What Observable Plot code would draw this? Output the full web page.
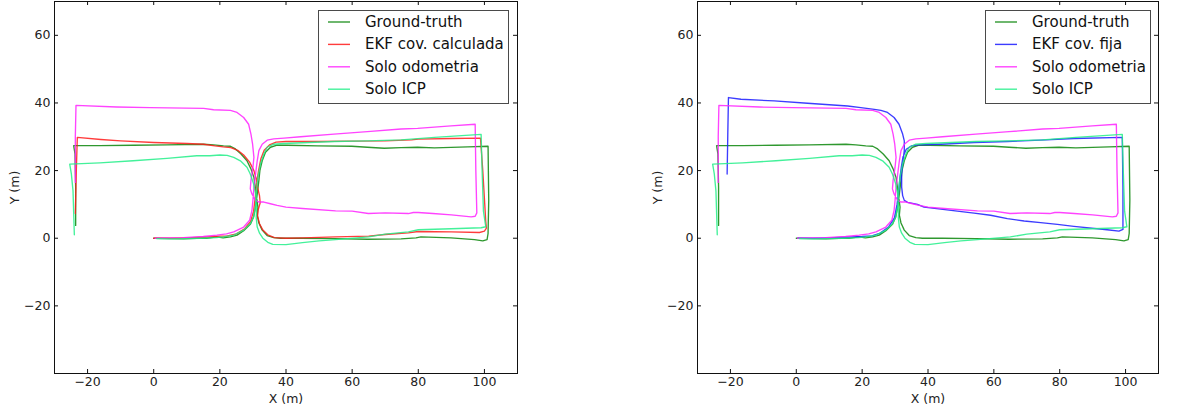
<!DOCTYPE html>
<html>
<head>
<meta charset="utf-8">
<script src="https://cdn.jsdelivr.net/npm/d3@7"></script>
<script src="https://cdn.jsdelivr.net/npm/@observablehq/plot@0.6"></script>
<style>
  body { margin: 0; background: #fff; font-family: "DejaVu Sans", sans-serif; }
  #chart { position: relative; width: 1179px; height: 407px; overflow: hidden; background: #fff; }
  .panel { position: absolute; top: 0; }
  .legend { position: absolute; border: 1.8px solid #4a4a4a; background: #fff; box-sizing: border-box;
            font-family: "DejaVu Sans", sans-serif; font-size: 15px; color: #111; }
  .legend .label { position: absolute; height: 20px; line-height: 20px; white-space: nowrap; }
  .legend svg { position: absolute; left: 0; top: 0; }
</style>
</head>
<body>
<div id="chart"></div>
<script>
// Axis settings
const xDomain = [-30, 110];
const yDomain = [-40, 70];
const xTicks = [-20, 0, 20, 40, 60, 80, 100];
const yTicks = [-20, 0, 20, 40, 60];

// Trajectories, [x (m), y (m)] in travel order
const groundTruth = [
  [0,0],[5,-0.1],[9,-0.2],[13,0],[16,0],[19,0.4],[21,0.1],[23.2,0.4],[25.2,0.9],[27.2,2.2],[29.2,4.1],
  [30.2,6.3],[30.8,9.2],[31.3,13.1],[31.8,17.1],[32.1,20],[32.8,22.9],[33.8,25.4],[35.3,26.9],[37.3,27.5],
  [40.4,27.5],[49.5,27.3],[59.9,27.2],[64.6,26.9],[69.7,26.6],[74.8,26.8],[79.8,26.9],[84.9,26.7],[95,27],
  [101.1,27.2],[101.3,11.2],[101.1,1.4],[100.8,-0.4],[99.5,-0.8],[97,-0.4],[89.9,0.1],[80.8,0.4],[79.3,0.1],
  [74.8,-0.2],[64.6,-0.3],[54.5,-0.1],[44.4,0],[38.3,0],[36.3,0.2],[34.3,0.8],[32.8,2.4],[31.8,4.5],
  [31.3,6.8],[31.5,9.2],[31.1,12.2],[30.7,15.1],[30.3,18],[29.4,20.5],[28.2,22.9],[26.4,24.9],[24.7,26.4],
  [23.2,27.2],[21.1,27.3],[18.1,27.6],[15.1,27.8],[3.9,27.6],[-6.2,27.5],[-16.3,27.4],[-24.2,27.4],
  [-23.8,24.9],[-23.6,15.1],[-23.6,3.8]
];
const ekfCalculated = [
  [0,0],[5,0],[10,0.1],[15,0.3],[20,0.6],[22,0.6],[25,1.3],[27.5,2.8],[29.3,5],[30.2,8],[30.7,12],
  [31.1,16],[31.7,20],[32.4,23.5],[33.4,26],[35,27.6],[37,28.4],[40,28.6],[50,28.6],[60,28.7],[70,28.8],
  [78,29.1],[80,29.3],[90,29.5],[98.8,29.6],[99.5,20],[100.4,5],[100.6,3],[100,2.1],[98.5,1.7],[90,1.9],
  [80,2],[77,1.6],[70,1.1],[65,0.6],[55,0.4],[45,0.1],[40,0],[36.5,0.2],[34.5,1],[33,2.4],[32,4.3],
  [31.4,6.5],[31.6,8.5],[32.2,10.5],[32,12.5],[31.4,15],[31,17.5],[30.3,20],[29,22.5],[27.2,24.6],
  [25.4,26],[23.3,26.8],[21,27],[18.5,27.3],[15,27.8],[10,28],[0,28.3],[-10,28.8],[-16,29.2],
  [-23.1,29.8],[-23.4,20],[-23.7,7.3]
];
const ekfFixed = [
  [0.5,0],[5,0],[10,0.1],[15,0.3],[20,0.5],[23,0.7],[25.5,1.5],[28,3.3],[29.8,6],[30.6,10],[31.1,14],
  [31.5,18],[31.9,21],[32.4,24],[33.4,26.3],[35,27.3],[36.8,27.6],[43.9,27.8],[54,28.3],[64.1,28.6],
  [74.2,29],[84.3,29.5],[99,29.8],[99.2,15],[99.2,2.6],[98,2.1],[94.4,2.5],[84.3,3.5],[79.3,4.1],
  [74.2,4.6],[69.2,5.1],[64.1,5.8],[59,6.8],[54,7.4],[48.9,8],[43.9,8.6],[38.8,9.2],[36.8,10],
  [33.8,10.6],[32.8,11.2],[32.3,12.6],[32,15.1],[32,19],[32.3,22],[32.8,25.9],[32.8,28.8],[32.3,30.8],
  [31.2,33.7],[29.7,35.7],[27.7,37.2],[25.7,37.8],[23.7,38.1],[19.6,38.6],[15.6,39.1],[3.4,39.9],
  [-6.7,40.6],[-16.8,41.1],[-20.6,41.6],[-20.8,30.8],[-21,19]
];
const odometry = [
  [0.4,0],[5,0.1],[9,0.2],[15,0.5],[19.1,0.9],[22,1.3],[24.2,1.9],[27.2,3.3],[29,5.3],[29.7,8.2],
  [30,11.2],[30.3,15.1],[30.8,19],[31.3,22.9],[31.8,25.9],[32.8,27.8],[34.3,29],[36.3,29.4],[39.4,29.6],
  [44.4,30],[54.5,30.8],[64.6,31.5],[74.8,32.3],[79.8,32.5],[89.9,33.2],[97.2,33.7],[97.4,20],[97.7,7.5],
  [97.2,6.5],[96,6.3],[90,6.9],[84.4,7.3],[80,7.6],[78.5,7.6],[77,7.3],[70,7.5],[64.9,7.3],[60,8],
  [55,8.1],[45,8.8],[40,9.2],[37.3,9.7],[35.3,10.2],[33.3,10.7],[31.8,10.7],[30.8,11.2],[29.7,13.1],
  [29.2,14.6],[29.4,17.1],[30,21],[30.3,23.9],[29.9,27.8],[29.4,30.8],[28.7,33.7],[27.2,35.7],
  [25.2,37.2],[23.2,37.8],[18.1,38],[15.1,38.4],[-1.1,38.6],[-11.2,38.8],[-23.5,39.3],[-23.7,30],
  [-23.7,16.5]
];
const icpOnly = [
  [0.9,-0.1],[5,-0.2],[10,-0.1],[14,0],[19,0.2],[21,0.4],[24.2,0.9],[27.2,2.4],[29.2,4.3],[30.2,6.3],
  [30.8,9.5],[31.1,14.1],[31.5,18],[32.3,22],[33.3,24.9],[34.3,26.9],[36.3,27.8],[39.4,28],[54.5,28.6],
  [64.6,28.8],[74.8,29.1],[84.9,29.8],[99,30.7],[99.3,20],[99.7,8],[100.4,3.4],[99,3.1],[90,2.8],
  [80,2.5],[77,1.9],[70,1.2],[65,0.4],[55,-0.4],[50,-0.8],[45,-1.3],[40,-1.9],[36,-1.8],[34.5,-1.2],
  [33,0],[32,1.5],[31.3,3.3],[31,6],[31.1,9],[30.8,13.1],[30.2,16.1],[29.2,19],[28.2,21],[26.2,22.9],
  [24.2,23.9],[22.2,24.5],[20,24.6],[17,24.4],[13,24.4],[4,23.6],[-6.2,22.9],[-16.3,22.3],[-25.4,21.9],
  [-24.9,19],[-24.4,14],[-24,1]
];

// Series labels and colours
const seriesNames = ["Ground-truth", "EKF cov. calculada", "EKF cov. fija", "Solo odometria", "Solo ICP"];
const seriesColors = ["#0a860a", "#ff1a1a", "#1a1aff", "#ff22ff", "#22ee88"];

const series = {
  gt:    {name: seriesNames[0], color: seriesColors[0], data: groundTruth},
  calc:  {name: seriesNames[1], color: seriesColors[1], data: ekfCalculated},
  fixed: {name: seriesNames[2], color: seriesColors[2], data: ekfFixed},
  odom:  {name: seriesNames[3], color: seriesColors[3], data: odometry},
  icp:   {name: seriesNames[4], color: seriesColors[4], data: icpOnly}
};

const H = 407, MT = 1, MB = 34;
const SVGNS = "http://www.w3.org/2000/svg";

function panel({left, width, marginLeft, marginRight, list, legend}) {
  const frameW = width - marginLeft - marginRight;
  const frameH = H - MT - MB;
  const marks = list.map(s => Plot.line(s.data, {
    x: d => d[0], y: d => d[1], stroke: s.color, strokeWidth: 1.35, strokeOpacity: 0.85
  }));
  marks.push(
    Plot.frame({stroke: "#111", strokeWidth: 1}),
    // inward ticks on all four sides
    Plot.tickX(xTicks, {x: d => d, insetTop: frameH - 4, stroke: "#111"}),
    Plot.tickX(xTicks, {x: d => d, insetBottom: frameH - 4, stroke: "#111"}),
    Plot.tickY(yTicks, {y: d => d, insetRight: frameW - 4, stroke: "#111"}),
    Plot.tickY(yTicks, {y: d => d, insetLeft: frameW - 4, stroke: "#111"}),
    Plot.axisX(xTicks, {tickSize: 0, tickPadding: 4, label: null, fontSize: 12.5, fill: "#222"}),
    Plot.axisY(yTicks, {tickSize: 0, tickPadding: 4, label: null, fontSize: 12.5, fill: "#222"}),
    Plot.text(["X (m)"], {frameAnchor: "bottom", lineAnchor: "middle", dy: 25, fontSize: 12.5, fill: "#222"}),
    Plot.text(["Y (m)"], {frameAnchor: "left", lineAnchor: "middle", textAnchor: "middle", rotate: -90,
                          dx: -40, fontSize: 12.5, fill: "#222"})
  );
  const svg = Plot.plot({
    width, height: H, marginTop: MT, marginBottom: MB, marginLeft, marginRight,
    x: {domain: xDomain}, y: {domain: yDomain},
    style: {fontFamily: "DejaVu Sans, sans-serif", background: "transparent", overflow: "visible"},
    marks
  });
  const wrap = document.createElement("div");
  wrap.className = "panel";
  wrap.style.left = left + "px";
  wrap.style.width = width + "px";
  wrap.appendChild(svg);

  // legend box: line swatches plus names
  const lg = document.createElement("div");
  lg.className = "legend";
  Object.assign(lg.style, {left: legend.x + "px", top: legend.y + "px",
                           width: legend.w + "px", height: legend.h + "px"});
  const sw = document.createElementNS(SVGNS, "svg");
  sw.setAttribute("width", 40);
  sw.setAttribute("height", legend.h);
  list.forEach((s, i) => {
    const cy = 11 + i * 22.4;
    const ln = document.createElementNS(SVGNS, "line");
    ln.setAttribute("x1", 9); ln.setAttribute("x2", 31);
    ln.setAttribute("y1", cy); ln.setAttribute("y2", cy);
    ln.setAttribute("stroke", s.color);
    ln.setAttribute("stroke-width", 1.4);
    ln.setAttribute("stroke-opacity", 0.85);
    sw.appendChild(ln);
    const tx = document.createElement("div");
    tx.className = "label";
    tx.textContent = s.name;
    Object.assign(tx.style, {left: "46px", top: (cy - 10) + "px"});
    lg.appendChild(tx);
  });
  lg.appendChild(sw);
  wrap.appendChild(lg);
  document.getElementById("chart").appendChild(wrap);
}

panel({left: 0, width: 590, marginLeft: 54, marginRight: 73,
       list: [series.gt, series.calc, series.odom, series.icp],
       legend: {x: 318, y: 10, w: 191, h: 94}});
panel({left: 590, width: 589, marginLeft: 107, marginRight: 21,
       list: [series.gt, series.fixed, series.odom, series.icp],
       legend: {x: 395, y: 10, w: 166, h: 94}});
</script>
</body>
</html>
